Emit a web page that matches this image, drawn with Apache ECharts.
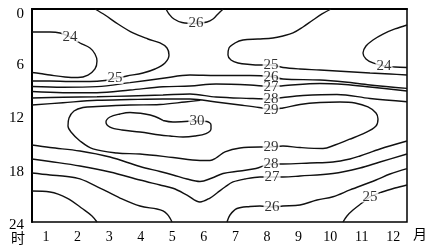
<!DOCTYPE html>
<html><head><meta charset="utf-8">
<script src="https://cdn.jsdelivr.net/npm/echarts@6/dist/echarts.min.js"></script>
<style>html,body{margin:0;padding:0;background:#fff}#c{width:432px;height:252px}</style>
</head><body><div id="c"></div>
<script>
// axes
const monthTicks = [1,2,3,4,5,6,7,8,9,10,11,12];
const hourTicks = [0,6,12,18,24];
// isolines, points as [month, hour]
const c24L = [[0.557,2.59],[1.127,2.59],[1.443,2.70],[1.760,3.15],[2.077,3.83],[2.394,4.39],[2.552,5.07],[2.615,5.86],[2.552,6.76],[2.330,7.44],[2.013,7.72],[1.602,7.66],[1.127,7.44],[0.810,7.27],[0.557,7.15]];
const c25L = [[2.552,0],[2.868,0.68],[3.280,1.69],[3.755,2.70],[4.230,3.38],[4.611,3.83],[4.833,4.39],[4.896,5.18],[4.769,6.08],[4.452,6.76],[4.072,7.21],[3.565,7.55],[3.185,7.83],[2.868,8.06],[2.394,8.17],[1.760,8.17],[1.127,8.11],[0.557,8.11]];
const c25R = [[10.027,0],[9.742,0.56],[9.456,1.24],[9.140,2.03],[8.823,2.70],[8.506,3.04],[8.189,3.27],[7.714,3.38],[7.239,3.49],[6.986,3.83],[6.796,4.39],[6.764,5.18],[6.859,5.75],[7.081,6.08],[7.461,6.25],[7.778,6.31],[8.126,6.31],[8.506,6.59],[9.045,6.76],[9.678,6.87],[10.470,7.04],[11.262,7.21],[11.895,7.32],[12.434,7.44]];
const c24R = [[12.434,1.80],[12.053,2.25],[11.674,2.82],[11.357,3.49],[11.135,4.17],[11.040,4.96],[11.135,5.63],[11.357,6.08],[11.705,6.42],[12.053,6.54],[12.434,6.59]];
const c26T = [[4.801,0],[4.896,0.56],[5.054,1.13],[5.308,1.52],[5.751,1.63],[6.099,1.46],[6.290,1.13],[6.416,0.68],[6.543,0.23],[6.606,0]];
const c26 = [[0.557,8.73],[1.538,8.82],[2.615,8.75],[3.660,8.30],[4.706,7.81],[5.561,7.44],[6.385,7.49],[7.461,7.49],[8.126,7.61],[8.506,7.89],[9.678,8.00],[10.470,8.23],[11.262,8.56],[12.434,8.94]];
const c27 = [[0.557,9.30],[1.538,9.43],[2.615,9.43],[3.660,9.13],[4.706,8.76],[5.561,8.68],[6.385,8.45],[7.461,8.56],[8.126,8.73],[8.506,8.64],[9.678,8.39],[10.470,8.51],[11.262,8.79],[12.434,9.24]];
const c28 = [[0.557,10.03],[1.538,9.95],[2.615,9.88],[3.660,9.80],[4.706,9.69],[5.561,9.58],[6.385,9.92],[7.461,10.08],[8.126,10.14],[8.506,9.97],[9.140,9.75],[10.216,9.63],[11.262,10.08],[12.434,10.45]];
const c29 = [[0.557,10.82],[1.538,10.56],[2.615,10.29],[3.660,10.20],[4.706,10.14],[5.561,10.14],[6.385,10.48],[7.144,10.82],[7.746,11.10],[8.126,11.32],[8.506,11.15],[9.045,10.76],[9.678,10.54],[10.312,10.48],[10.787,10.59],[11.198,11.04],[11.452,11.72],[11.515,12.39],[11.452,13.18],[11.103,13.97],[10.597,14.70],[10.153,15.32],[9.773,15.72],[9.045,15.61],[8.506,15.44],[8.126,15.55],[7.778,15.55],[7.144,15.66],[6.669,16.11],[6.385,16.79],[6.194,17.07],[5.877,17.07],[5.023,16.73],[3.977,16.34],[3.249,16.23],[2.489,15.77],[2.077,14.87],[1.792,13.86],[1.697,13.18],[1.729,12.28],[1.887,11.49],[2.172,11.10],[2.615,10.99],[3.660,10.82],[4.611,10.76],[5.403,10.48],[5.877,10.29]];
const c30 = [[4.706,12.56],[5.023,12.73],[5.782,12.62],[6.099,12.68],[6.226,13.07],[6.226,13.52],[6.068,14.03],[5.719,14.31],[5.339,14.42],[4.928,14.31],[4.611,14.20],[3.977,13.86],[3.407,13.63],[3.027,13.30],[2.900,12.73],[3.027,12.17],[3.344,11.83],[3.660,11.66],[4.135,11.83],[4.452,12.11],[4.706,12.56]];
const c28Low = [[0.557,15.32],[1.127,15.61],[2.077,16.00],[3.027,16.68],[3.977,17.75],[4.611,18.31],[5.023,18.70],[5.466,19.16],[5.877,19.44],[6.258,19.04],[6.606,18.54],[7.144,18.25],[7.650,17.97],[8.126,17.46],[8.506,17.46],[9.361,17.35],[10.090,17.24],[10.628,16.90],[10.945,16.56],[11.578,15.77],[12.434,14.87]];
const c27Low = [[0.557,16.90],[1.127,17.18],[2.077,17.69],[3.027,18.37],[3.977,19.27],[4.611,19.83],[5.023,20.20],[5.466,20.96],[5.877,21.75],[6.194,21.30],[6.416,20.73],[6.669,20.06],[6.923,19.49],[7.302,19.15],[7.778,18.93],[8.158,18.93],[8.506,18.93],[9.045,18.82],[10.090,18.54],[10.945,17.92],[11.578,17.24],[12.434,16.34]];
const c26LowA = [[0.557,18.48],[1.127,18.70],[1.665,18.87],[2.077,19.15],[2.710,20.17],[3.344,21.30],[3.977,22.20],[4.515,22.54],[4.706,22.76],[4.833,23.10],[4.928,23.55],[4.991,24.0]];
const c26LowB = [[6.733,24.0],[6.828,23.21],[7.049,22.48],[7.461,22.25],[7.778,22.20],[8.158,22.31],[8.506,22.20],[9.045,22.08],[9.583,21.52],[10.090,21.15],[10.628,20.39],[11.452,19.27],[11.895,18.59],[12.434,17.99]];
const c25LowA = [[0.557,20.51],[1.127,20.62],[1.665,21.30],[2.172,22.54],[2.457,23.32],[2.615,24.0]];
const c25LowB = [[10.407,24.0],[10.533,23.32],[10.723,22.65],[11.008,21.86],[11.262,21.18],[11.642,20.62],[12.053,20.17],[12.434,19.83]];
// contour value labels: [month, hour, text]
const contourLabels = [
  [1.76,3.15,'24'],[3.185,7.83,'25'],[5.75,1.63,'26'],[8.13,6.3,'25'],[11.705,6.42,'24'],
  [8.13,7.66,'26'],[8.13,8.79,'27'],[8.13,10.14,'28'],[8.13,11.38,'29'],[5.78,12.62,'30'],
  [8.13,15.55,'29'],[8.13,17.46,'28'],[8.16,18.93,'27'],[8.16,22.31,'26'],[11.26,21.18,'25']
];

const lines = [c24L,c25L,c25R,c24R,c26T,c26,c27,c28,c29,c30,c28Low,c27Low,c26LowA,c26LowB,c25LowA,c25LowB];
const serif = "'Liberation Serif','DejaVu Serif',serif";
const series = lines.map(d => ({
  type: 'line', data: d, showSymbol: false, smooth: 0.35, silent: true,
  lineStyle: { color: '#111', width: 1.4 }, z: 2
}));
series.push({
  type: 'scatter', data: contourLabels.map(r => [r[0], r[1], r[2]]),
  symbolSize: 1, itemStyle: { color: 'rgba(0,0,0,0)' }, z: 10, silent: true,
  label: { show: true, position: 'inside', formatter: p => p.data[2],
    fontFamily: serif, fontSize: 15, color: '#000', backgroundColor: '#fff',
    padding: [0, 1], lineHeight: 11 }
});

const chart = echarts.init(document.getElementById('c'), null, { renderer: 'canvas' });
chart.setOption({
  animation: false,
  backgroundColor: '#fff',
  grid: { left: 32, right: 25, top: 9, bottom: 30, show: true, borderColor: '#000', borderWidth: 1.5 },
  xAxis: {
    type: 'value', min: 0.557, max: 12.434,
    axisLine: { show: true, lineStyle: { color: '#000', width: 2 } },
    axisTick: { show: false }, splitLine: { show: false },
    axisLabel: { customValues: monthTicks, fontFamily: serif, fontSize: 14, color: '#000', margin: 8 }
  },
  yAxis: {
    type: 'value', inverse: true, min: 0, max: 24, interval: 6,
    axisLine: { show: true, lineStyle: { color: '#000', width: 2 } },
    axisTick: { show: false }, splitLine: { show: false },
    axisLabel: { customValues: hourTicks, fontFamily: serif, fontSize: 15, color: '#000', margin: 8,
      formatter: v => v === 0 ? '{a|0}' : '{b|' + v + '}',
      rich: { a: { fontFamily: serif, fontSize: 15, padding: [10,0,0,0] }, b: { fontFamily: serif, fontSize: 15, padding: [6,0,0,0] } } }
  },
  graphic: [
    { type: 'text', left: 11, top: 231, style: { text: '时', font: "14px 'Noto Sans CJK SC'", fill: '#000' } },
    { type: 'text', left: 413, top: 227, style: { text: '月', font: "14px 'Noto Sans CJK SC'", fill: '#000' } }
  ],
  series: series
});
</script>
</body></html>
